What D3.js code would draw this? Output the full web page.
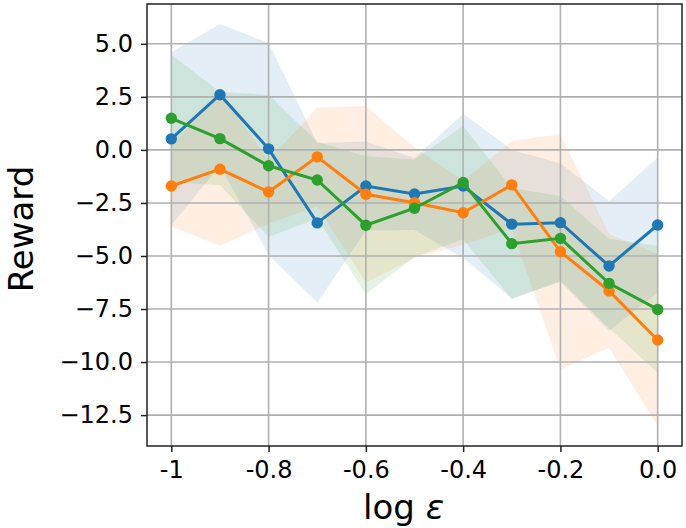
<!DOCTYPE html>
<html>
<head>
<meta charset="utf-8">
<script src="https://cdn.jsdelivr.net/npm/d3@7/dist/d3.min.js"></script>
<style>
  body { margin: 0; background: #fff; }
  svg text { font-family: "DejaVu Sans", sans-serif; fill: #000; }
</style>
</head>
<body>
<div id="chart"></div>
<script>
// x values (log epsilon)
var logEps = [-1, -0.9, -0.8, -0.7, -0.6, -0.5, -0.4, -0.3, -0.2, -0.1, 0];

// series means and standard deviations
var blueMean   = [0.52, 2.6, 0.05, -3.44, -1.7, -2.08, -1.7, -3.5, -3.43, -5.47, -3.54];
var blueStd    = [4.08, 3.33, 5.0, 3.76, 2.1, 1.7, 3.4, 3.5, 2.8, 3.06, 3.18];
var orangeMean = [-1.7, -0.91, -1.98, -0.33, -2.09, -2.49, -2.96, -1.65, -4.8, -6.65, -8.96];
var orangeStd  = [1.9, 3.62, 1.5, 2.33, 4.16, 2.6, 1.5, 2.07, 5.55, 2.68, 4.05];
var greenMean  = [1.49, 0.53, -0.75, -1.42, -3.55, -2.75, -1.54, -4.42, -4.17, -6.29, -7.52];
var greenStd   = [3.0, 2.2, 3.35, 1.8, 3.25, 2.3, 2.67, 2.62, 2.0, 2.1, 3.0];

// tick values and labels
var xTicks = [-1, -0.8, -0.6, -0.4, -0.2, 0];
var xTickLabels = ["-1", "-0.8", "-0.6", "-0.4", "-0.2", "0.0"];
var yTicks = [5, 2.5, 0, -2.5, -5, -7.5, -10, -12.5];

var series = [
    { mean: blueMean, std: blueStd, color: "#1f77b4" },
    { mean: orangeMean, std: orangeStd, color: "#ff7f0e" },
    { mean: greenMean, std: greenStd, color: "#2ca02c" }
];

var W = 686, H = 528;
var margin = { top: 4, right: 4, bottom: 82, left: 147 };
var width = W - margin.left - margin.right;
var height = H - margin.top - margin.bottom;

var svg = d3.select("#chart").append("svg")
    .attr("width", W)
    .attr("height", H);

var g = svg.append("g")
    .attr("transform", "translate(" + margin.left + "," + margin.top + ")");

// matplotlib style 5% margins
function padded(ext) {
    var r = ext[1] - ext[0];
    return [ext[0] - 0.05 * r, ext[1] + 0.05 * r];
}

var allLow = [], allHigh = [];
series.forEach(function(s) {
    s.points = logEps.map(function(x, i) {
        return { x: x, m: s.mean[i], lo: s.mean[i] - s.std[i], hi: s.mean[i] + s.std[i] };
    });
    s.points.forEach(function(p) { allLow.push(p.lo); allHigh.push(p.hi); });
});

var x = d3.scaleLinear().domain(padded(d3.extent(logEps))).range([0, width]);
var y = d3.scaleLinear().domain(padded([d3.min(allLow), d3.max(allHigh)])).range([height, 0]);

// bands
var area = d3.area()
    .x(function(d) { return x(d.x); })
    .y0(function(d) { return y(d.lo); })
    .y1(function(d) { return y(d.hi); });

g.selectAll("path.band")
    .data(series)
    .enter()
    .append("path")
    .attr("class", "band")
    .attr("d", function(s) { return area(s.points); })
    .attr("fill", function(s) { return s.color; })
    .attr("fill-opacity", 0.12);

// grid
g.selectAll("line.vgrid")
    .data(xTicks)
    .enter()
    .append("line")
    .attr("x1", function(d) { return x(d); })
    .attr("x2", function(d) { return x(d); })
    .attr("y1", 0)
    .attr("y2", height)
    .attr("stroke", "#b0b0b0")
    .attr("stroke-width", 1.6);

g.selectAll("line.hgrid")
    .data(yTicks)
    .enter()
    .append("line")
    .attr("x1", 0)
    .attr("x2", width)
    .attr("y1", function(d) { return y(d); })
    .attr("y2", function(d) { return y(d); })
    .attr("stroke", "#b0b0b0")
    .attr("stroke-width", 1.6);

// lines and markers
var line = d3.line()
    .x(function(d) { return x(d.x); })
    .y(function(d) { return y(d.m); });

series.forEach(function(s) {
    g.append("path")
        .attr("d", line(s.points))
        .attr("fill", "none")
        .attr("stroke", s.color)
        .attr("stroke-width", 3);
    g.selectAll(null)
        .data(s.points)
        .enter()
        .append("circle")
        .attr("cx", function(d) { return x(d.x); })
        .attr("cy", function(d) { return y(d.m); })
        .attr("r", 5.7)
        .attr("fill", s.color);
});

// axes
var xAxis = d3.axisBottom(x)
    .tickValues(xTicks)
    .tickSize(6)
    .tickPadding(9)
    .tickFormat(function(d, i) { return xTickLabels[i]; });

var yAxis = d3.axisLeft(y)
    .tickValues(yTicks)
    .tickSize(6)
    .tickPadding(8)
    .tickFormat(d3.format(".1f"));

var gx = g.append("g")
    .attr("transform", "translate(0," + height + ")")
    .call(xAxis);
var gy = g.append("g").call(yAxis);

[gx, gy].forEach(function(a) {
    a.select(".domain").remove();
    a.selectAll(".tick line").attr("stroke", "#222").attr("stroke-width", 1.5);
    a.selectAll(".tick text")
        .style("font-family", "DejaVu Sans")
        .style("font-size", "24px")
        .attr("fill", "#000");
});

// frame
g.append("rect")
    .attr("width", width)
    .attr("height", height)
    .attr("fill", "none")
    .attr("stroke", "#222")
    .attr("stroke-width", 1.5);

// axis labels
var xl = g.append("text")
    .attr("x", width / 2 - 11)
    .attr("y", height + 73)
    .attr("text-anchor", "middle")
    .style("font-size", "34px");
xl.append("tspan").text("log ");
xl.append("tspan").style("font-style", "italic").text("ε");

svg.append("text")
    .attr("transform", "translate(33," + (margin.top + height / 2 + 4) + ") rotate(-90)")
    .attr("text-anchor", "middle")
    .style("font-size", "34px")
    .text("Reward");
</script>
</body>
</html>
